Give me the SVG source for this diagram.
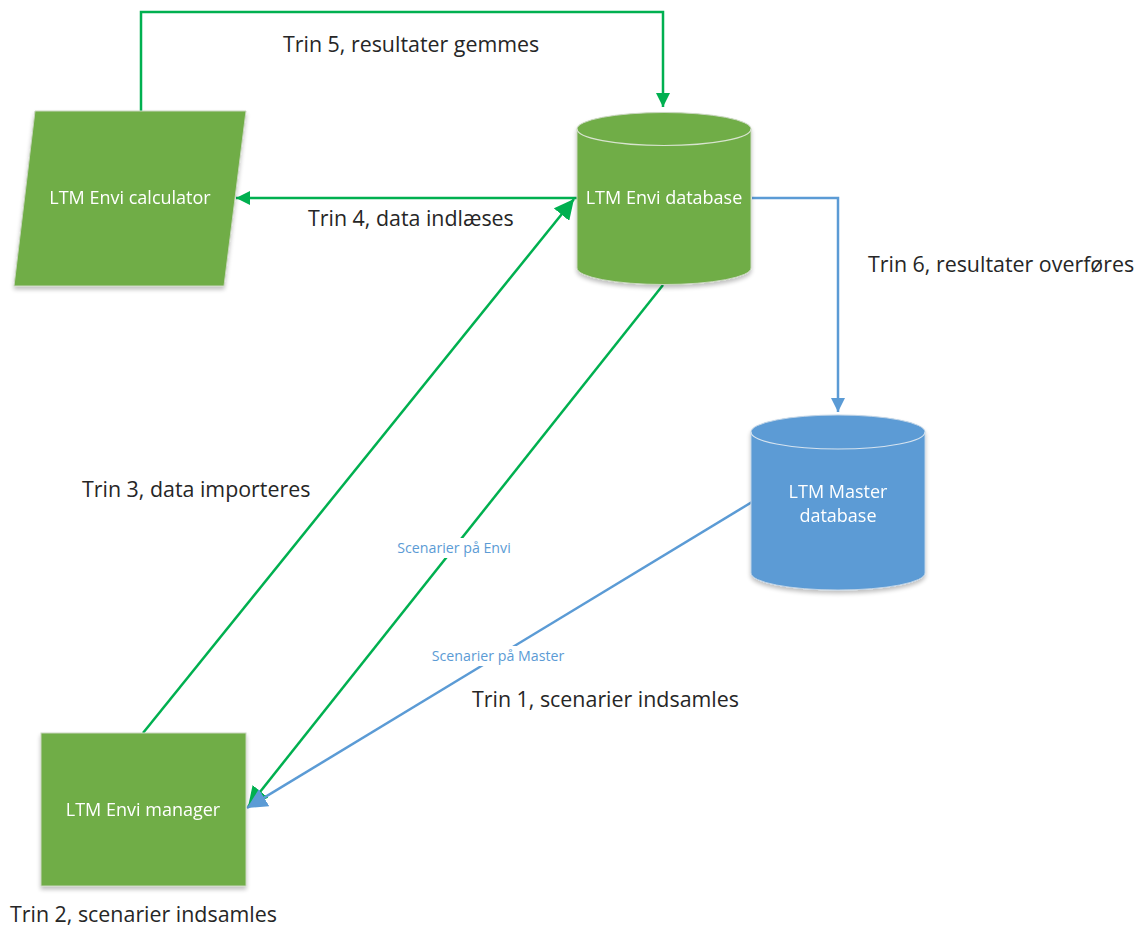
<svg xmlns="http://www.w3.org/2000/svg" width="1143" height="928" viewBox="0 0 1143 928">
  <defs>
    <marker id="ag" viewBox="0 0 10 10" refX="10" refY="5" markerWidth="14" markerHeight="14" markerUnits="userSpaceOnUse" orient="auto">
      <path d="M0,0 L10,5 L0,10 z" fill="#00B050"/>
    </marker>
    <marker id="agl" viewBox="0 0 10 10" refX="10" refY="5" markerWidth="20" markerHeight="20" markerUnits="userSpaceOnUse" orient="auto">
      <path d="M0,0 L10,5 L0,10 z" fill="#00B050"/>
    </marker>
    <marker id="ab" viewBox="0 0 10 10" refX="10" refY="5" markerWidth="14" markerHeight="14" markerUnits="userSpaceOnUse" orient="auto">
      <path d="M0,0 L10,5 L0,10 z" fill="#5B9BD5"/>
    </marker>
    <marker id="abl" viewBox="0 0 10 10" refX="10" refY="5" markerWidth="20" markerHeight="20" markerUnits="userSpaceOnUse" orient="auto">
      <path d="M0,0 L10,5 L0,10 z" fill="#5B9BD5"/>
    </marker>
    <filter id="sh" x="-10%" y="-10%" width="130%" height="130%">
      <feGaussianBlur in="SourceAlpha" stdDeviation="2"/>
      <feOffset dx="0" dy="3"/>
      <feComponentTransfer><feFuncA type="linear" slope="0.25"/></feComponentTransfer>
      <feMerge><feMergeNode/><feMergeNode in="SourceGraphic"/></feMerge>
    </filter>
  </defs>
  <style>
    .g { fill: #70AD47; stroke: #C9D6BF; stroke-width: 1; }
    .b { fill: #5B9BD5; stroke: #BFD3E6; stroke-width: 1; }
    .lid { fill: none; stroke: #D8E4CF; stroke-width: 1.2; }
    .lidb { fill: none; stroke: #D6E3EF; stroke-width: 1.2; }
    .nt { font-family: "Open Sans", "Noto Sans", sans-serif; font-size: 18px; fill: #FFFFFF; text-anchor: middle; }
    .lbl { font-family: "Open Sans", "Noto Sans", sans-serif; font-size: 21.4px; fill: #262626; }
    .sl { font-family: "Open Sans", "Noto Sans", sans-serif; font-size: 14.2px; fill: #5B9BD5; text-anchor: middle; }
    .cg { fill: none; stroke: #00B050; stroke-width: 2.5; }
    .cb { fill: none; stroke: #5B9BD5; stroke-width: 2.5; }
  </style>
  <rect width="1143" height="928" fill="#FFFFFF"/>

  <g id="connectors">
    <path class="cg" d="M141,111 L141,12 L663,12 L663,107" marker-end="url(#ag)"/>
    <path class="cg" d="M577,198 L236,198" marker-end="url(#ag)"/>
    <path class="cb" d="M752,198 L838,198 L838,412" marker-end="url(#ab)"/>
    <path class="cg" d="M143,733 L574,199" marker-end="url(#agl)"/>
    <path class="cg" d="M663,285 L248,807" marker-end="url(#agl)"/>
    <path class="cb" d="M752,502 L247,808" marker-end="url(#abl)"/>
    <rect x="394" y="538" width="120" height="20" fill="#FFFFFF"/>
    <rect x="428" y="646" width="140" height="20" fill="#FFFFFF"/>
    <text class="sl" x="454" y="553">Scenarier på Envi</text>
    <text class="sl" x="498" y="661">Scenarier på Master</text>
  </g>

  <g id="calculator" filter="url(#sh)">
    <polygon class="g" points="35,111 246,111 224,286 14,286"/>
    <text class="nt" x="130" y="204">LTM Envi calculator</text>
  </g>

  <g id="envi-db" filter="url(#sh)">
    <path class="g" d="M577,129 A87,16.5 0 0 1 751,129 L751,268 A87,16.5 0 0 1 577,268 Z"/>
    <path class="lid" d="M577,129 A87,16.5 0 0 0 751,129"/>
    <text class="nt" x="664" y="204">LTM Envi database</text>
  </g>

  <g id="master-db" filter="url(#sh)">
    <path class="b" d="M751,432 A87,17 0 0 1 925,432 L925,573 A87,17 0 0 1 751,573 Z"/>
    <path class="lidb" d="M751,432 A87,17 0 0 0 925,432"/>
    <text class="nt" x="838" y="498">LTM Master</text>
    <text class="nt" x="838" y="522">database</text>
  </g>

  <g id="manager" filter="url(#sh)">
    <rect class="g" x="41" y="733" width="205" height="153"/>
    <text class="nt" x="143" y="816">LTM Envi manager</text>
  </g>

  <g id="labels">
    <text class="lbl" x="283" y="52">Trin 5, resultater gemmes</text>
    <text class="lbl" x="308" y="226">Trin 4, data indlæses</text>
    <text class="lbl" x="868" y="272">Trin 6, resultater overføres</text>
    <text class="lbl" x="82" y="497">Trin 3, data importeres</text>
    <text class="lbl" x="472" y="707">Trin 1, scenarier indsamles</text>
    <text class="lbl" x="10" y="922">Trin 2, scenarier indsamles</text>
  </g>
</svg>
